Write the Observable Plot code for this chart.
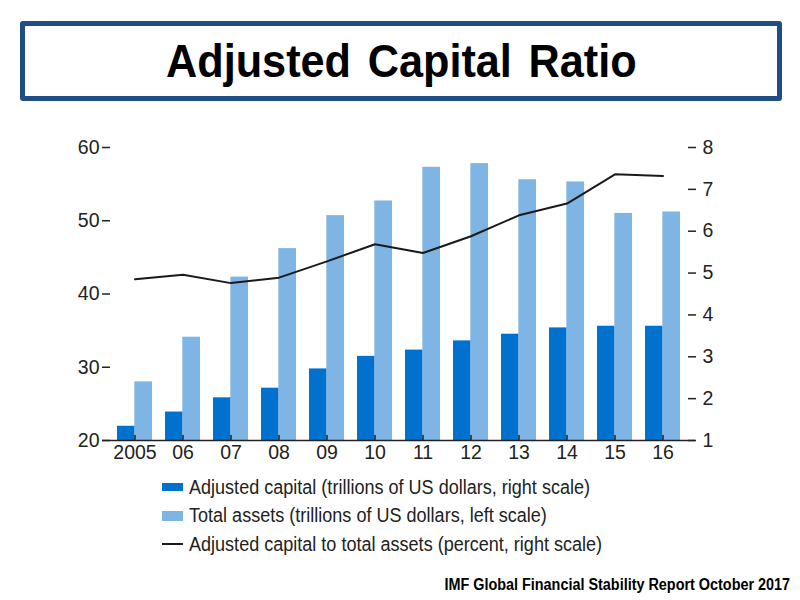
<!DOCTYPE html>
<html>
<head>
<meta charset="utf-8">
<script src="https://cdn.jsdelivr.net/npm/d3@7"></script>
<script src="https://cdn.jsdelivr.net/npm/@observablehq/plot@0.6"></script>
<style>
  html, body { margin: 0; padding: 0; background: #fff; }
  body { width: 800px; height: 600px; position: relative; overflow: hidden; font-family: "Liberation Sans", Arial, sans-serif; }
  #title { position: absolute; left: 20px; top: 21px; width: 752px; height: 70px; border: 5px solid #1F4E85; border-radius: 3px; display: flex; align-items: center; justify-content: center; }
  #title span { font-weight: bold; font-size: 46px; color: #000; display: inline-block; transform: scaleX(0.94); word-spacing: 5px; white-space: nowrap; }
  #chart { position: absolute; left: 0; top: 120px; }
  #legend { position: absolute; left: 162px; top: 473px; color: #222; }
  .row { height: 28.5px; display: flex; align-items: center; white-space: nowrap; }
  .sw { width: 21px; flex: none; margin-right: 6px; }
  .row span { display: inline-block; font-size: 19.5px; transform: scaleX(0.925); transform-origin: left center; }
  #caption { position: absolute; right: 10px; top: 576px; font-weight: bold; font-size: 16px; color: #000; white-space: nowrap; transform: scaleX(0.9); transform-origin: right center; }
</style>
</head>
<body>
<div id="title"><span>Adjusted Capital Ratio</span></div>
<div id="chart"></div>
<div id="legend"></div>
<div id="caption">IMF Global Financial Stability Report October 2017</div>
<script>
const years = ["2005", "06", "07", "08", "09", "10", "11", "12", "13", "14", "15", "16"];
const totalAssets = [28.0, 34.1, 42.3, 46.2, 50.7, 52.7, 57.3, 57.8, 55.6, 55.3, 51.0, 51.2];
const adjustedCapital = [1.34, 1.68, 2.02, 2.25, 2.71, 3.01, 3.16, 3.38, 3.54, 3.69, 3.73, 3.73];
const capitalRatio = [4.85, 4.96, 4.76, 4.89, 5.28, 5.69, 5.48, 5.88, 6.38, 6.66, 7.36, 7.32];
const leftTicks = [20, 30, 40, 50, 60];
const rightTicks = [1, 2, 3, 4, 5, 6, 7, 8];
const seriesNames = [
  "Adjusted capital (trillions of US dollars, right scale)",
  "Total assets (trillions of US dollars, left scale)",
  "Adjusted capital to total assets (percent, right scale)"
];
const colors = { capital: "#0071CE", assets: "#7FB5E4", ratio: "#1a1a1a" };

// right scale (1..8) mapped onto left scale (20..60)
const toLeft = v => 20 + (v - 1) * 40 / 7;
const fromLeft = y => 1 + (y - 20) * 7 / 40;

const data = years.map((year, i) => ({
  year,
  assets: totalAssets[i],
  capital: toLeft(adjustedCapital[i]),
  ratio: toLeft(capitalRatio[i])
}));

const W = 800, H = 360, mL = 102, mR = 105, pInner = 0.28, pOuter = 0.3;
const step = (W - mL - mR) / (years.length - pInner + 2 * pOuter);
const half = step * (1 - pInner) / 2;
const font = '"Liberation Sans", Arial, sans-serif';

const chart = Plot.plot({
  width: W, height: H,
  marginLeft: mL, marginRight: mR, marginTop: 27, marginBottom: 40,
  style: { fontFamily: font, fontSize: "19.5px", color: "#222", background: "#fff", overflow: "visible" },
  x: { domain: years, paddingInner: pInner, paddingOuter: pOuter, axis: null, label: null },
  y: { domain: [20, 60], axis: null, label: null },
  marks: [
    Plot.barY(data, { x: "year", y1: 20, y2: "capital", fill: colors.capital, insetRight: half }),
    Plot.barY(data, { x: "year", y1: 20, y2: "assets", fill: colors.assets, insetLeft: half }),
    Plot.line(data, { x: "year", y: "ratio", stroke: colors.ratio, strokeWidth: 2, strokeLinejoin: "round" }),
    Plot.ruleY([20], { stroke: "#222", strokeWidth: 1.5 }),
    Plot.axisX({ anchor: "bottom", tickSize: -5, tickPadding: 10, stroke: "#222", strokeWidth: 1.5 }),
    Plot.axisY({ anchor: "left", ticks: leftTicks, tickSize: -8, tickPadding: 11, stroke: "#222", strokeWidth: 1.5 }),
    Plot.axisY({ anchor: "right", ticks: rightTicks.map(toLeft), tickFormat: d => String(Math.round(fromLeft(d))), tickSize: -8, tickPadding: 15, stroke: "#222", strokeWidth: 1.5 })
  ]
});
document.getElementById("chart").appendChild(chart);

const legend = document.getElementById("legend");
const swatches = [
  { bg: colors.capital, h: 8 },
  { bg: colors.assets, h: 10 },
  { bg: colors.ratio, h: 2 }
];
seriesNames.forEach((name, i) => {
  const row = document.createElement("div");
  row.className = "row";
  const sw = document.createElement("div");
  sw.className = "sw";
  sw.style.background = swatches[i].bg;
  sw.style.height = swatches[i].h + "px";
  const t = document.createElement("span");
  t.textContent = name;
  row.appendChild(sw);
  row.appendChild(t);
  legend.appendChild(row);
});
</script>
</body>
</html>
